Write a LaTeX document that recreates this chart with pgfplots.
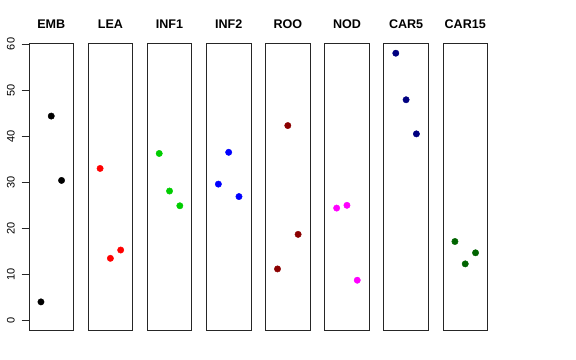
\documentclass[border=0pt]{standalone}
\usepackage{pgfplots}
\pgfplotsset{compat=1.18}
\usepackage{fontspec}
\setmainfont{Liberation Sans}
\definecolor{green3}{RGB}{0,205,0}
\definecolor{darkred}{RGB}{139,0,0}
\definecolor{navy}{RGB}{0,0,128}
\definecolor{dkgreen}{RGB}{0,100,0}
\definecolor{rmagenta}{RGB}{255,0,255}
\definecolor{rred}{RGB}{255,0,0}
\definecolor{rblue}{RGB}{0,0,255}
\pgfplotsset{
  panel/.style={
    scale only axis, width=44.5bp, height=287.4bp,
    xmin=-0.16, xmax=4.16, ymin=-2.2, ymax=60.15,
    xtick=\empty, ytick=\empty,
    axis line style={black!85, line width=0.8bp},
    title style={font=\fontsize{12.6}{14}\bfseries\selectfont, anchor=base, at={(0.5,1)}, yshift=9.3bp, inner sep=0pt},
    anchor=south west, clip=false
  },
  pts/.style={only marks, mark=*, mark size=3.2bp, #1, mark options={fill=#1, draw=#1}},
  tk/.style={black!85, line width=0.8bp, no marks, forget plot}
}
\begin{document}
\begin{tikzpicture}
\path[use as bounding box] (0,0) rectangle (576bp,360bp);
\begin{axis}[panel, at={(29bp,29.3bp)}, title=EMB,
  ytick={0,10,20,30,40,50,60}, ytick pos=left,
  tick align=outside, major tick length=7.3bp,
  every tick/.style={draw=black, line width=0.8bp},
  /pgf/number format/assume math mode=true,
  yticklabel style={rotate=90, anchor=south, inner sep=0pt, yshift=6.7bp, font=\fontsize{11}{12}\selectfont}]
\addplot[tk] coordinates {(-0.16,0)(-0.869,0)};
\addplot[tk] coordinates {(-0.16,10)(-0.869,10)};
\addplot[tk] coordinates {(-0.16,20)(-0.869,20)};
\addplot[tk] coordinates {(-0.16,30)(-0.869,30)};
\addplot[tk] coordinates {(-0.16,40)(-0.869,40)};
\addplot[tk] coordinates {(-0.16,50)(-0.869,50)};
\addplot[tk] coordinates {(-0.16,60)(-0.869,60)};
\addplot[pts=black] coordinates {(1,4.05)(2,44.36)(3,30.4)};
\end{axis}
\begin{axis}[panel, at={(88.14bp,29.3bp)}, title=LEA]
\addplot[pts=rred] coordinates {(1,33.0)(2,13.5)(3,15.3)};
\end{axis}
\begin{axis}[panel, at={(147.28bp,29.3bp)}, title=INF1]
\addplot[pts=green3] coordinates {(1,36.25)(2,28.1)(3,24.9)};
\end{axis}
\begin{axis}[panel, at={(206.42bp,29.3bp)}, title=INF2]
\addplot[pts=rblue] coordinates {(1,29.6)(2,36.5)(3,26.9)};
\end{axis}
\begin{axis}[panel, at={(265.56bp,29.3bp)}, title=ROO]
\addplot[pts=darkred] coordinates {(1,11.2)(2,42.3)(3,18.7)};
\end{axis}
\begin{axis}[panel, at={(324.7bp,29.3bp)}, title=NOD]
\addplot[pts=rmagenta] coordinates {(1,24.4)(2,25.0)(3,8.75)};
\end{axis}
\begin{axis}[panel, at={(383.84bp,29.3bp)}, title=CAR5]
\addplot[pts=navy] coordinates {(1,58.0)(2,47.9)(3,40.5)};
\end{axis}
\begin{axis}[panel, at={(442.98bp,29.3bp)}, title=CAR15]
\addplot[pts=dkgreen] coordinates {(1,17.15)(2,12.3)(3,14.7)};
\end{axis}
\end{tikzpicture}
\end{document}
